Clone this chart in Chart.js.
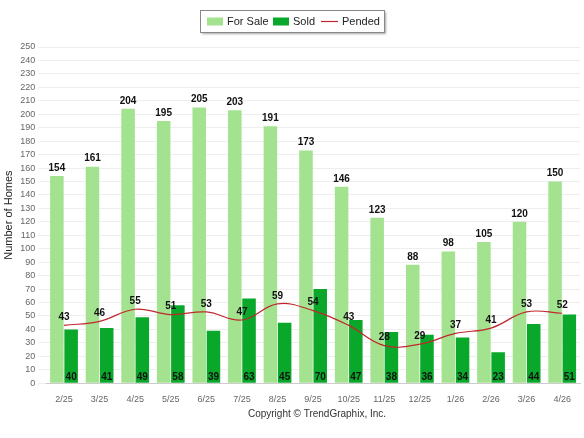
<!DOCTYPE html>
<html><head><meta charset="utf-8">
<script src="https://cdn.jsdelivr.net/npm/chart.js@4"></script>
<style>body{margin:0;background:#fff}#w{width:584px;height:438px;position:relative}</style>
</head><body><div id="w"><canvas id="c"></canvas></div>
<script>
const labels=["2/25","3/25","4/25","5/25","6/25","7/25","8/25","9/25","10/25","11/25","12/25","1/26","2/26","3/26","4/26"];
const forSale=[154,161,204,195,205,203,191,173,146,123,88,98,105,120,150];
const sold=[40,41,49,58,39,63,45,70,47,38,36,34,23,44,51];
const pended=[43,46,55,51,53,47,59,54,43,28,29,37,41,53,52];
const yTicks=[0,10,20,30,40,50,60,70,80,90,100,110,120,130,140,150,160,170,180,190,200,210,220,230,240,250];
const F='Arial, Liberation Sans';
const labelPlugin={id:'lbl',
 afterDraw(ch){const c=ch.ctx;c.save();
  const x=200,y=10,w=184,h=22;
  c.shadowColor='rgba(0,0,0,0.35)';c.shadowOffsetX=2;c.shadowOffsetY=2;c.shadowBlur=2;
  c.fillStyle='#fff';c.fillRect(x,y,w,h);c.shadowColor='transparent';
  c.strokeStyle='#888';c.lineWidth=1;c.strokeRect(x+0.5,y+0.5,w,h);
  c.font='11px '+F;c.fillStyle='#222';c.textBaseline='middle';c.textAlign='left';
  const cy=y+h/2+0.5;
  c.fillStyle='#a3e28f';c.fillRect(207,cy-4,16,8);c.fillStyle='#222';c.fillText('For Sale',227,cy);
  c.fillStyle='#0aa82a';c.fillRect(273,cy-4,16,8);c.fillStyle='#222';c.fillText('Sold',293,cy);
  c.strokeStyle='#c0282d';c.lineWidth=1.2;c.beginPath();c.moveTo(321,cy);c.lineTo(338,cy);c.stroke();c.fillText('Pended',342,cy);
  c.font='10px '+F;c.fillStyle='#333';c.textAlign='center';c.fillText('Copyright © TrendGraphix, Inc.',317,414);
  c.restore();},
 afterDatasetsDraw(ch){const c=ch.ctx;c.save();c.textAlign='center';c.font='bold 10px '+F;c.fillStyle='#111';
  const y0=ch.scales.y.getPixelForValue(0);
  ch.getDatasetMeta(0).data.forEach((b,i)=>{c.textBaseline='bottom';c.fillText(forSale[i],b.x,b.y-3);});
  ch.getDatasetMeta(1).data.forEach((b,i)=>{c.textBaseline='middle';c.fillText(sold[i],b.x,y0-6);});
  ch.getDatasetMeta(2).data.forEach((p,i)=>{c.textBaseline='bottom';c.fillText(pended[i],p.x,p.y-3);});
  c.restore();}};

new Chart(document.getElementById('c'),{
 data:{labels,datasets:[
  {type:'bar',label:'For Sale',data:forSale,backgroundColor:'#a3e28f',order:2,categoryPercentage:0.8,barPercentage:0.95},
  {type:'bar',label:'Sold',data:sold,backgroundColor:'#0aa82a',order:2,categoryPercentage:0.8,barPercentage:0.95},
  {type:'line',label:'Pended',data:pended,borderColor:'#c0282d',borderWidth:1.2,pointRadius:0,tension:0.4,order:1}]},
 options:{responsive:true,maintainAspectRatio:false,animation:false,
  layout:{padding:{top:47,right:4,left:0,bottom:30}},
  plugins:{tooltip:{enabled:false},legend:{display:false}},
  scales:{
   x:{grid:{display:false},border:{color:'#ccc'},ticks:{color:'#666',font:{size:9,family:F}}},
   y:{min:0,max:250,afterBuildTicks(a){a.ticks=yTicks.map(v=>({value:v}));},
    grid:{color:'#eee'},border:{display:false},ticks:{color:'#666',font:{size:9,family:F},autoSkip:false},
    title:{display:true,text:'Number of Homes',color:'#222',font:{size:11,family:F},padding:2}}}},
 plugins:[labelPlugin]
});
</script></body></html>
